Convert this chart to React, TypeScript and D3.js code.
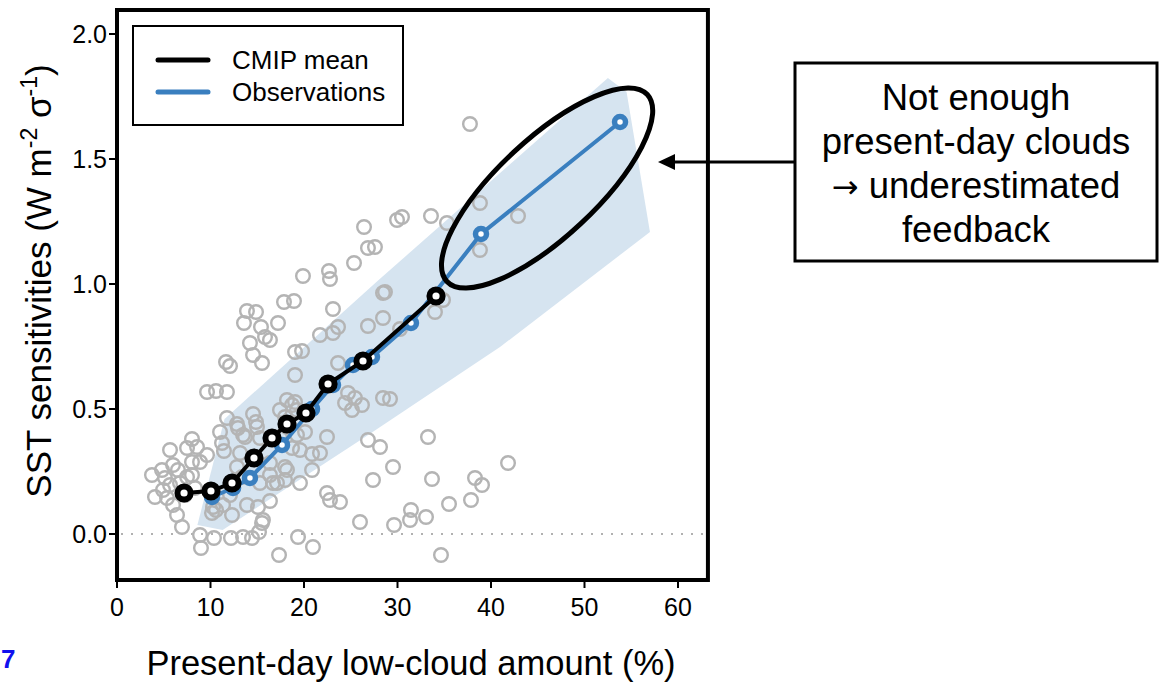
import React from "react";
import * as d3 from "d3";

// ---- Data ----
const xTicks = [0, 10, 20, 30, 40, 50, 60];
const yTicks = [0, 0.5, 1.0, 1.5, 2.0];
const xLim = [0, 63.2];
const yLim = [-0.184, 2.096];

// individual model points (low-cloud %, SST sensitivity)
const modelPoints: [number, number][] = [
  [13.9, 0.892], [14.87, 0.888], [13.58, 0.844], [15.4, 0.828], [14.22, 0.764], [14.55, 0.716],
  [11.66, 0.688], [12.09, 0.672], [9.63, 0.568], [10.59, 0.572], [11.76, 0.568], [11.76, 0.464],
  [14.55, 0.48], [14.87, 0.448], [12.83, 0.44], [15.83, 0.788], [5.67, 0.336], [8.02, 0.38],
  [7.49, 0.344], [8.56, 0.348], [9.63, 0.316], [8.88, 0.288], [8.02, 0.288], [5.99, 0.276],
  [4.81, 0.256], [3.74, 0.236], [5.13, 0.224], [8.02, 0.236], [7.49, 0.228], [6.74, 0.204],
  [5.67, 0.196], [4.92, 0.176], [4.06, 0.148], [5.35, 0.144], [5.99, 0.116], [6.42, 0.076],
  [6.95, 0.028], [8.88, -0.004], [8.98, -0.056], [10.37, -0.016], [12.19, -0.016], [13.48, -0.012],
  [14.44, -0.016], [15.19, 0.008], [15.51, 0.044], [11.23, 0.364], [11.44, 0.332], [13.48, 0.396],
  [10.27, 0.108], [10.16, 0.084], [11.34, 0.116], [12.09, 0.156], [12.3, 0.076], [13.9, 0.116],
  [15.08, 0.108], [7.27, 0.156], [8.34, 0.184], [6.52, 0.256], [26.42, 1.228], [26.84, 1.144],
  [25.35, 1.084], [22.67, 1.052], [22.78, 1.02], [19.89, 1.032], [17.86, 0.928], [18.93, 0.932],
  [23.1, 0.9], [17.22, 0.844], [28.45, 0.964], [23.64, 0.828], [26.84, 0.832], [28.45, 0.864],
  [16.36, 0.776], [19.04, 0.728], [21.71, 0.796], [23.1, 0.804], [23.64, 0.684], [19.04, 0.636],
  [15.51, 0.684], [24.71, 0.564], [25.45, 0.544], [24.39, 0.524], [26.2, 0.516], [25.13, 0.496],
  [28.45, 0.544], [17.43, 0.496], [18.18, 0.536], [19.04, 0.528], [17.97, 0.468], [20.11, 0.408],
  [22.46, 0.388], [26.84, 0.376], [15.29, 0.384], [20.86, 0.32], [21.71, 0.324], [18.18, 0.256],
  [16.36, 0.236], [17.11, 0.204], [17.97, 0.216], [19.57, 0.204], [20.86, 0.256], [22.46, 0.164],
  [22.78, 0.136], [23.85, 0.128], [16.36, 0.132], [27.38, 0.216], [28.13, 0.348], [25.99, 0.048],
  [15.61, 0.056], [19.36, -0.012], [20.96, -0.052], [17.33, -0.084], [34.01, 0.888], [34.87, 0.936],
  [30.27, 0.82], [29.2, 0.54], [33.26, 0.388], [29.52, 0.268], [41.82, 0.284], [33.69, 0.22],
  [38.29, 0.224], [39.04, 0.196], [35.51, 0.12], [37.86, 0.136], [31.44, 0.096], [31.34, 0.056],
  [33.05, 0.068], [29.63, 0.036], [34.65, -0.084], [37.75, 1.64], [38.82, 1.324], [42.89, 1.272],
  [29.95, 1.256], [30.48, 1.268], [33.58, 1.272], [35.29, 1.244], [38.82, 1.136], [27.59, 1.148],
  [28.66, 0.968], [13.69, 0.388], [14.97, 0.428], [12.94, 0.424], [17.43, 0.388], [19.25, 0.396],
  [18.72, 0.344], [17.97, 0.268], [15.29, 0.204], [16.68, 0.204], [19.79, 0.732], [12.83, 0.268],
  [13.16, 0.324], [11.02, 0.408], [18.18, 0.428], [13.37, 0.228], [16.36, 0.284], [19.57, 0.336],
  [18.72, 0.516], [19.25, 0.496], [10.59, 0.096],
];

// observations (binned)
const obsX = [10.16, 12.41, 14.22, 17.65, 20.86, 23.1, 25.24, 27.27, 31.44, 38.93, 53.8];
const obsY = [0.148, 0.184, 0.224, 0.356, 0.5, 0.596, 0.676, 0.708, 0.844, 1.2, 1.648];

// CMIP mean (binned)
const cmipX = [7.17, 10.05, 12.3, 14.65, 16.58, 18.18, 20.21, 22.57, 26.31, 34.12];
const cmipY = [0.164, 0.172, 0.204, 0.304, 0.384, 0.44, 0.484, 0.6, 0.692, 0.952];

// observational uncertainty band (polygon vertices)
const bandPoly: [number, number][] = [
  [8.6, 0.036], [11.5, 0.46], [27.8, 1.01], [52.5, 1.824], [54.5, 1.768],
  [57.0, 1.208], [41.0, 0.749], [26.7, 0.392], [11.3, 0.016],
];

// annotation ellipse centre (data units)
const ellipseCenter: [number, number] = [46.0, 1.384];

const legendLabels = ["CMIP mean", "Observations"];
const annotationLines = ["Not enough", "present-day clouds", "underestimated", "feedback"];

const FONT = "'Liberation Sans', Arial, Helvetica, sans-serif";
const BLUE = "#3a7fbf";
const GRAY = "#b4b4b4";
const BAND = "#d6e4f0";

export default function App() {
  const x = d3.scaleLinear().domain([0, 60]).range([117, 678]);
  const y = d3.scaleLinear().domain([0, 2]).range([534, 34]);

  const fx0 = x(xLim[0]);
  const fx1 = x(xLim[1]);
  const fy0 = y(yLim[1]);
  const fy1 = y(yLim[0]);

  const lineGen = d3
    .line<[number, number]>()
    .x((d) => x(d[0]))
    .y((d) => y(d[1]));

  const obs: [number, number][] = obsX.map((v, i) => [v, obsY[i]]);
  const cmip: [number, number][] = cmipX.map((v, i) => [v, cmipY[i]]);
  const bandPath = lineGen(bandPoly) + "Z";

  const ecx = x(ellipseCenter[0]);
  const ecy = y(ellipseCenter[1]);

  return (
    <svg
      width={1170}
      height={682}
      style={{ position: "absolute", left: 0, top: 0, background: "#fff" }}
      fontFamily={FONT}
    >
      <rect x={0} y={0} width={1170} height={682} fill="#fff" />
      {/* band */}
      <path d={bandPath} fill={BAND} stroke="none" />
      {/* zero line */}
      <line
        x1={fx0 + 4}
        x2={fx1 - 4}
        y1={y(0)}
        y2={y(0)}
        stroke="#b0b0b0"
        strokeWidth={2}
        strokeDasharray="2,8"
      />
      {/* model points */}
      {modelPoints.map((d, i) => (
        <circle key={i} cx={x(d[0])} cy={y(d[1])} r={6.8} fill="none" stroke={GRAY} strokeWidth={2.4} />
      ))}
      {/* observations */}
      <path d={lineGen(obs) || ""} fill="none" stroke={BLUE} strokeWidth={4} />
      {obs.map((d, i) => (
        <circle key={i} cx={x(d[0])} cy={y(d[1])} r={5.5} fill="#fff" stroke={BLUE} strokeWidth={5.5} />
      ))}
      {/* CMIP mean */}
      <path d={lineGen(cmip) || ""} fill="none" stroke="#000" strokeWidth={4} />
      {cmip.map((d, i) => (
        <circle key={i} cx={x(d[0])} cy={y(d[1])} r={6.6} fill="#fff" stroke="#000" strokeWidth={6} />
      ))}
      {/* ellipse */}
      <ellipse
        cx={ecx}
        cy={ecy}
        rx={137}
        ry={49}
        transform={`rotate(-43 ${ecx} ${ecy})`}
        fill="none"
        stroke="#000"
        strokeWidth={5}
      />
      {/* frame */}
      <rect x={fx0} y={fy0} width={fx1 - fx0} height={fy1 - fy0} fill="none" stroke="#000" strokeWidth={4} />
      {/* y ticks */}
      {yTicks.map((t) => (
        <g key={t}>
          <line x1={fx0 - 8} x2={fx0} y1={y(t)} y2={y(t)} stroke="#000" strokeWidth={2} />
          <text x={fx0 - 10} y={y(t)} dy="0.35em" textAnchor="end" fontSize={25} fill="#000">
            {t.toFixed(1)}
          </text>
        </g>
      ))}
      {/* x ticks */}
      {xTicks.map((t) => (
        <g key={t}>
          <line x1={x(t)} x2={x(t)} y1={fy1} y2={fy1 + 8} stroke="#000" strokeWidth={2} />
          <text x={x(t)} y={616} textAnchor="middle" fontSize={25} fill="#000">
            {t}
          </text>
        </g>
      ))}
      {/* axis titles */}
      <text x={411} y={675} textAnchor="middle" fontSize={34.5} fill="#000">
        Present-day low-cloud amount (%)
      </text>
      <text
        transform={`translate(51, 281) rotate(-90)`}
        textAnchor="middle"
        fontSize={35}
        fill="#000"
      >
        SST sensitivities (W m
        <tspan dy={-14} fontSize={23}>-2</tspan>
        <tspan dy={14}> σ</tspan>
        <tspan dy={-14} fontSize={23}>-1</tspan>
        <tspan dy={14}>)</tspan>
      </text>
      {/* legend */}
      <rect x={133} y={26} width={270} height={99} fill="#fff" stroke="#000" strokeWidth={2} />
      <line x1={158} x2={208} y1={60} y2={60} stroke="#000" strokeWidth={5} strokeLinecap="round" />
      <line x1={158} x2={208} y1={92} y2={92} stroke={BLUE} strokeWidth={5} strokeLinecap="round" />
      <text x={232} y={60} dy="0.35em" fontSize={26} fill="#000">{legendLabels[0]}</text>
      <text x={232} y={92} dy="0.35em" fontSize={26} fill="#000">{legendLabels[1]}</text>
      {/* annotation box */}
      <rect x={795} y={63} width={362} height={198} fill="#fff" stroke="#000" strokeWidth={3} />
      {annotationLines.map((s, i) => (
        <text key={i} x={976} y={110 + i * 44} textAnchor="middle" fontSize={36.5} fill="#000">
          {i === 2 ? (
            <>
              <tspan fontFamily="'DejaVu Sans', sans-serif" fontSize={32}>{"\u2192"}</tspan>
              {" " + s}
            </>
          ) : (
            s
          )}
        </text>
      ))}
      {/* arrow */}
      <line x1={795} x2={672} y1={162} y2={162} stroke="#000" strokeWidth={3} />
      <path d="M658,162 L675,154 L675,170 Z" fill="#000" />
      {/* slide number */}
      <text x={1} y={668} fontSize={26} fontWeight="bold" fill="#1010ee">7</text>
    </svg>
  );
}
